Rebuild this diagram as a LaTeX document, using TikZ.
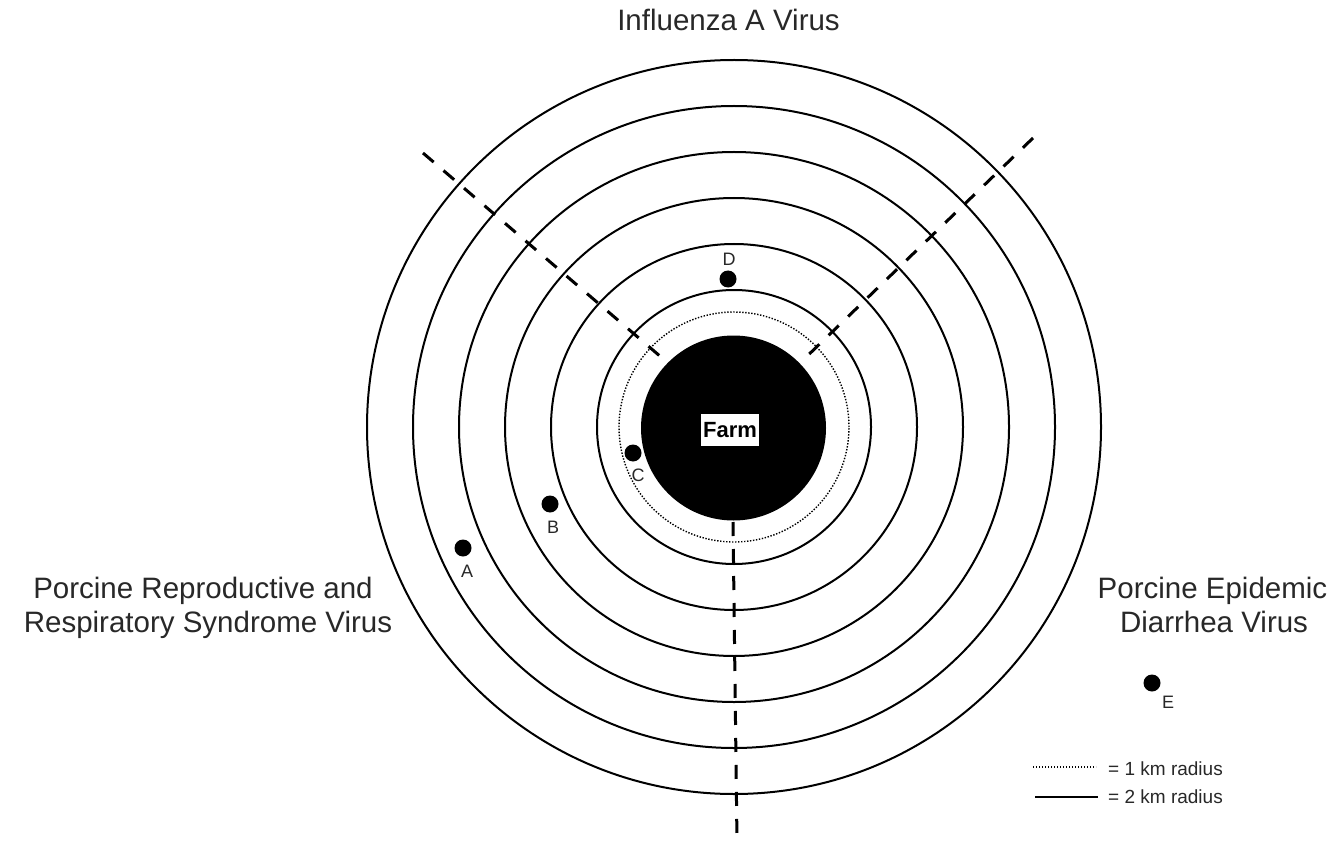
\documentclass[tikz,border=0pt]{standalone}
\usepackage{fontspec}
\setmainfont{Liberation Sans}
\definecolor{txt}{RGB}{40,40,40}
\begin{document}
\begin{tikzpicture}[x=1pt,y=-1pt,
  ring/.style={draw=black, line width=2pt},
  dotring/.style={draw=black, line width=1.4pt, dash pattern=on 1.4pt off 1.6pt},
  dashline/.style={draw=black, line width=3pt, dash pattern=on 14pt off 13pt},
  site/.style={circle, fill=black, inner sep=0pt, minimum size=17pt},
  sitelbl/.style={text=txt, inner sep=0pt, font=\fontsize{18}{20}\selectfont},
  title/.style={text=txt, inner sep=0pt, anchor=base, font=\fontsize{29.5}{34}\selectfont},
  legtxt/.style={text=txt, inner sep=0pt, anchor=base west, font=\fontsize{19}{22}\selectfont}]
\useasboundingbox (0,0) rectangle (1335,842);
\fill[white] (0,0) rectangle (1335,842);
\coordinate (O) at (734,427);
% rings (2 km radius)
\foreach \r in {137,183,229,275,321,367}
  \draw[ring] (O) circle[radius=\r pt];
% dashed sector lines
\coordinate (ulout) at (423,153);
\coordinate (ulin) at (668,363);
\coordinate (urout) at (1033,138);
\coordinate (urin) at (801,362);
\coordinate (dnin) at (733,522);
\coordinate (dnout) at (737,842);
\draw[dashline] (ulout) -- (ulin);
\draw[dashline] (urout) -- (urin);
\draw[dashline] (dnin) -- (dnout);
% 1 km radius
\draw[dotring] (O) circle[radius=115pt];
% farm
\fill[black] (733.5,428) circle[radius=92.5pt];
\node[draw=black, fill=white, line width=1.2pt, inner xsep=3pt, inner ysep=0pt,
      minimum height=33pt, minimum width=60pt,
      font=\bfseries\fontsize{22}{26}\selectfont] (farm) at (730,430) {Farm};
% sites
\node[site] (A) at (463,548) {};
\node[site] (B) at (550,504) {};
\node[site] (C) at (633,453) {};
\node[site] (D) at (728,279) {};
\node[site] (E) at (1152,683) {};
\node[sitelbl] (Al) at (467,571) {A};
\node[sitelbl] (Bl) at (553,527) {B};
\node[sitelbl] (Cl) at (638,475) {C};
\node[sitelbl] (Dl) at (729,259) {D};
\node[sitelbl] (El) at (1168,702) {E};
% titles
\node[title] (iav) at (728.5,31) {Influenza A Virus};
\node[title] (prrs1) at (203,598) {Porcine Reproductive and};
\node[title] (prrs2) at (208,632) {Respiratory Syndrome Virus};
\node[title] (ped1) at (1212.5,598) {Porcine Epidemic};
\node[title] (ped2) at (1214,632) {Diarrhea Virus};
% legend
\coordinate (l1a) at (1033,767);
\coordinate (l1b) at (1096,767);
\coordinate (l2a) at (1035,797);
\coordinate (l2b) at (1098,797);
\draw[dotring] (l1a) -- (l1b);
\draw[ring] (l2a) -- (l2b);
\node[legtxt] (leg1) at (1108,775) {= 1 km radius};
\node[legtxt] (leg2) at (1108,803) {= 2 km radius};
\end{tikzpicture}
\end{document}
